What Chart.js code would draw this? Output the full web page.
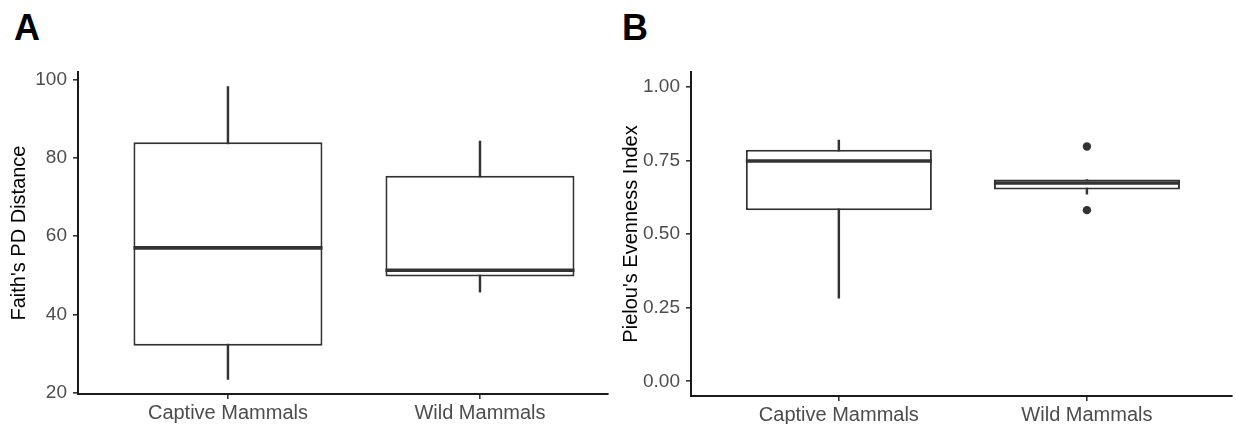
<!DOCTYPE html>
<html>
<head>
<meta charset="utf-8">
<script src="https://cdn.jsdelivr.net/npm/chart.js@4.4.1/dist/chart.umd.min.js"></script>
<style>
  body { margin: 0; background: #fff; }
  #wrap { position: relative; width: 1236px; height: 424px; font-family: "Liberation Sans", Arial, sans-serif; }
  .panel { position: absolute; top: 0; height: 424px; }
  .tag { position: absolute; top: 10px; font-weight: bold; font-size: 36px; line-height: 36px; color: #000; }
</style>
</head>
<body>
<div id="wrap">
  <div class="tag" style="left:14px">A</div>
  <div class="tag" style="left:622px">B</div>
  <div class="panel" style="left:0;width:612px"><canvas id="chartA"></canvas></div>
  <div class="panel" style="left:612px;width:624px"><canvas id="chartB"></canvas></div>
</div>
<script>
const groups = ["Captive Mammals", "Wild Mammals"];

// panel A - Faith's PD
const faithLow = [23.4, 45.7];
const faithQ1 = [32.0, 49.7];
const faithMedian = [57.0, 51.3];
const faithQ3 = [84.0, 75.4];
const faithHigh = [98.2, 84.3];
const faithOutliers = [[], []];
const faithTicks = [20, 40, 60, 80, 100];
const faithTickLabels = ["20", "40", "60", "80", "100"];

// panel B - Pielou's evenness
const pielouLow = [0.282, 0.635];
const pielouQ1 = [0.581, 0.651];
const pielouMedian = [0.748, 0.673];
const pielouQ3 = [0.786, 0.685];
const pielouHigh = [0.819, 0.685];
const pielouOutliers = [[], [0.797, 0.581]];
const pielouTicks = [0, 0.25, 0.5, 0.75, 1];
const pielouTickLabels = ["0.00", "0.25", "0.50", "0.75", "1.00"];

const ink = "#333333";
const fontFam = "'Liberation Sans', Arial, sans-serif";
const boxWidth = 0.75;

function boxChart(id, s) {
  const pos = groups.map((g, i) => i + 1);
  const bar = (lo, hi) => pos.map((x, i) => ({ x: x, y: [lo[i], hi[i]] }));
  const pts = [];
  s.out.forEach((list, i) => list.forEach(v => pts.push({ x: pos[i], y: v })));
  // median segments across each box, broken by a gap between groups
  const medLine = [];
  pos.forEach((x, i) => {
    medLine.push({ x: x - boxWidth / 2, y: s.med[i] }, { x: x + boxWidth / 2, y: s.med[i] }, { x: x + 0.5, y: null });
  });

  new Chart(document.getElementById(id), {
    type: "bar",
    data: {
      datasets: [
        { type: "line", data: medLine, borderColor: ink, borderWidth: 3.6, pointRadius: 0,
          borderCapStyle: "butt", spanGaps: false, order: 0 },
        { type: "scatter", data: pts, pointRadius: 4.2, pointBackgroundColor: ink,
          pointBorderWidth: 0, order: 0 },
        { type: "bar", grouped: false, data: bar(s.q1, s.q3), backgroundColor: "#fff", borderColor: ink,
          borderWidth: 2, borderSkipped: false, categoryPercentage: 1, barPercentage: boxWidth, order: 1 },
        { type: "bar", grouped: false, data: bar(s.low, s.high), backgroundColor: ink,
          borderWidth: 0, barThickness: 1.8, order: 3 }
      ]
    },
    options: {
      responsive: true,
      maintainAspectRatio: false,
      animation: false,
      layout: { padding: { top: 72, right: s.padRight, left: 0, bottom: 0 } },
      plugins: { legend: { display: false }, tooltip: { enabled: false } },
      scales: {
        x: {
          type: "linear", offset: false, min: s.xmin, max: s.xmax,
          afterBuildTicks: a => { a.ticks = pos.map(v => ({ value: v })); },
          afterFit: a => { a.height = s.xh; },
          grid: { offset: false, drawOnChartArea: false, drawTicks: true, tickLength: 5, color: ink, lineWidth: 1.6 },
          border: { display: true, color: "#1a1a1a", width: 2 },
          ticks: { color: "#4d4d4d", padding: 2, font: { family: fontFam, size: 20 },
            callback: v => groups[v - 1] }
        },
        y: {
          min: s.ymin, max: s.ymax,
          afterBuildTicks: a => { a.ticks = s.ticks.map(v => ({ value: v })); },
          afterFit: a => { a.width = s.yw; },
          grid: { drawOnChartArea: false, drawTicks: true, tickLength: 5, color: ink, lineWidth: 1.6 },
          border: { display: true, color: "#1a1a1a", width: 2 },
          ticks: { color: "#4d4d4d", padding: 6, font: { family: fontFam, size: 19 },
            callback: v => s.labels[s.ticks.indexOf(v)] },
          title: { display: true, text: s.title, color: "#000", padding: { top: 7, bottom: 0 },
            font: { family: fontFam, size: 20 } }
        }
      }
    }
  });
}

boxChart("chartA", {
  low: faithLow, q1: faithQ1, med: faithMedian, q3: faithQ3, high: faithHigh, out: faithOutliers,
  ticks: faithTicks, labels: faithTickLabels, title: "Faith's PD Distance",
  ymin: 19.66, ymax: 101.94, xmin: 0.405, xmax: 2.508, yw: 78, xh: 30, padRight: 4
});

boxChart("chartB", {
  low: pielouLow, q1: pielouQ1, med: pielouMedian, q3: pielouQ3, high: pielouHigh, out: pielouOutliers,
  ticks: pielouTicks, labels: pielouTickLabels, title: "Pielou's Evenness Index",
  ymin: -0.05, ymax: 1.05, xmin: 0.404, xmax: 2.584, yw: 79, xh: 28, padRight: 0
});
</script>
</body>
</html>
